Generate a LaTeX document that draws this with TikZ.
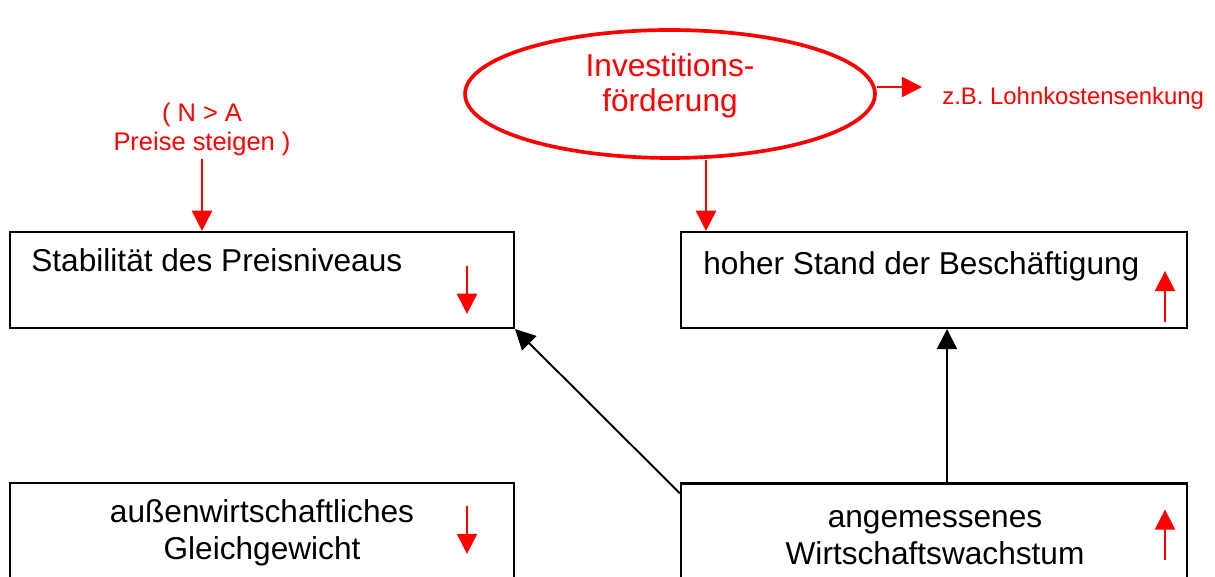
\documentclass[tikz,border=0pt]{standalone}
\usepackage{fontspec}
\setmainfont{Liberation Sans}
\usepackage{xcolor}
\usepackage{tikz}
\usetikzlibrary{positioning, arrows.meta, calc, shapes.geometric}
\definecolor{MarkRed}{HTML}{FF0000}

\begin{document}
\begin{tikzpicture}[
  x=0.02cm, y=-0.02cm,
  >={Triangle[length=11.5pt, width=11.5pt]},
  redarr/.style={->, line width=1pt, color=MarkRed},
  blkarr/.style={->, line width=1.1pt, color=black},
  goal/.style={draw, line width=1.2pt, inner sep=0pt,
               minimum width=10.08cm, minimum height=1.92cm},
  goaltxt/.style={font=\fontsize{18}{21}\selectfont, inner sep=0pt, align=center},
  redlbl/.style={font=\fontsize{14.5}{16.5}\selectfont, text=MarkRed,
                 align=center, inner sep=2pt},
]
  \clip (0,0) rectangle (1215,577);

  % Zielboxen
  \node[goal] (preis) at (262,280) {};
  \node[goal, minimum width=10.12cm] (beschaeft) at (934,280) {};
  \node[goal, minimum height=2.74cm] (aussen) at (262,551.5) {};
  \node[goal, minimum width=10.12cm, minimum height=2.74cm] (wachstum) at (934,552) {};

  \node[goaltxt, anchor=base west] (preistxt) at (31,272) {Stabilität des Preisniveaus};
  \node[goaltxt, anchor=base west] (beschafttxt) at (703,275) {hoher Stand der Beschäftigung};
  \node[goaltxt] (aussentxt) at (262,533) {außenwirtschaftliches\\Gleichgewicht};
  \node[goaltxt] (wachstumtxt) at (935,538) {angemessenes\\Wirtschaftswachstum};

  % Massnahme
  \node[ellipse, draw=MarkRed, line width=2.1pt, inner sep=0pt,
        minimum width=8.2cm, minimum height=2.56cm] (invest) at (670,94) {};
  \node[font=\fontsize{18}{20}\selectfont, text=MarkRed, align=center,
        inner sep=0pt] (investtxt) at (670,86) {Investitions-\\förderung};

  \node[redlbl, font=\fontsize{13.6}{16}\selectfont, anchor=west, inner sep=0pt]
    (zb) at (942,98) {z.B. Lohnkostensenkung};
  \coordinate (zbtip) at (922,87);
  \draw[redarr] (invest.east |- zbtip) -- (zbtip);

  \coordinate (investout) at ($(invest.south)+(36,0)$);
  \draw[redarr] (investout) -- (investout |- beschaeft.north);

  \node[redlbl] (nalbl) at (202,129) {( N > A\\Preise steigen )};
  \draw[redarr] (nalbl.south) -- (nalbl.south |- preis.north);

  % Zusammenhaenge
  \draw[blkarr] ($(wachstum.north)+(13,0)$) -- ($(beschaeft.south)+(13,0)$);
  \draw[blkarr] ($(wachstum.north west)+(0,11)$) -- (preis.south east);

  % Tendenzen
  \draw[redarr] ($(preis.north east)+(-48,35)$) -- ($(preis.north east)+(-48,83)$);
  \draw[redarr] ($(beschaeft.north east)+(-23,91)$) -- ($(beschaeft.north east)+(-23,40)$);
  \draw[redarr] ($(aussen.north east)+(-48,24)$) -- ($(aussen.north east)+(-48,72)$);
  \draw[redarr] ($(wachstum.north east)+(-23,78)$) -- ($(wachstum.north east)+(-23,27)$);

\end{tikzpicture}
\end{document}
